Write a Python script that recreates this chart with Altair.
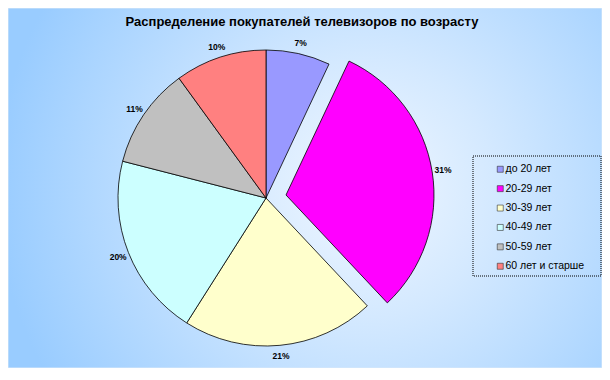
import altair as alt
import pandas as pd

# ---- data ----
categories = ["до 20 лет", "20-29 лет", "30-39 лет", "40-49 лет", "50-59 лет", "60 лет и старше"]
shares = [7, 31, 21, 20, 11, 10]
colors = ["#9999FF", "#FF00FF", "#FFFFCC", "#CCFFFF", "#C0C0C0", "#FF8080"]
exploded = "20-29 лет"
title_text = "Распределение покупателей телевизоров по возрасту"

df = pd.DataFrame({"cat": categories, "v": shares, "idx": list(range(len(categories)))})

# ---- layout ----
W, H, PAD_TOP = 594, 330, 30
CX, CY = 258, 160
R, R_LBL = 148, 159
EXP_DX, EXP_DY = 20, -3
FONT = "Liberation Sans"

test = f"datum.cat === '{exploded}'"

base = alt.Chart(df).transform_calculate(lbl="datum.v + '%'").encode(
    theta=alt.Theta("v:Q", stack=True),
    order=alt.Order("idx:Q"),
)

color_enc = alt.Color(
    "cat:N",
    scale=alt.Scale(domain=categories, range=colors),
    legend=alt.Legend(
        title=None, orient="none", legendX=487, legendY=126,
        symbolType="square", symbolSize=36, symbolStrokeColor="#333333",
        symbolStrokeWidth=0.6, labelFont=FONT, labelFontSize=10.5,
        labelColor="black", rowPadding=8.4, labelOffset=0, padding=0,
    ),
)

arc_props = dict(x=CX, y=CY, outerRadius=R, stroke="black", strokeWidth=0.8)

pie_rest = base.mark_arc(**arc_props).encode(
    color=color_enc,
    opacity=alt.condition(test, alt.value(0), alt.value(1)),
)
pie_exp = base.mark_arc(xOffset=EXP_DX, yOffset=EXP_DY, **arc_props).encode(
    color=color_enc,
    opacity=alt.condition(test, alt.value(1), alt.value(0)),
)

txt_props = dict(x=CX, y=CY, radius=R_LBL, font=FONT, fontSize=8.5, fontWeight="bold",
                 align="center", baseline="middle", color="black")
lbl_rest = base.mark_text(**txt_props).encode(
    text="lbl:N", opacity=alt.condition(test, alt.value(0), alt.value(1)))
lbl_exp = base.mark_text(xOffset=EXP_DX, yOffset=EXP_DY, **txt_props).encode(
    text="lbl:N", opacity=alt.condition(test, alt.value(1), alt.value(0)))

one = alt.Data(values=[{}])
bg = alt.Chart(one).mark_rect(
    color=alt.RadialGradient(
        gradient="radial", x1=0.6, y1=0.5, r1=0, x2=0.6, y2=0.5, r2=0.62,
        stops=[alt.GradientStop(offset=0, color="#F0F7FF"),
               alt.GradientStop(offset=0.35, color="#D4E9FF"),
               alt.GradientStop(offset=1, color="#99CCFF")]),
    stroke="#D8E8F8", strokeWidth=1,
).encode(x=alt.value(0), x2=alt.value(W), y=alt.value(-PAD_TOP), y2=alt.value(H))

title = alt.Chart(one).mark_text(
    text=title_text, font=FONT, fontSize=13, fontWeight="bold", color="black",
    align="center", baseline="middle",
).encode(x=alt.value(W / 2 - 3), y=alt.value(-16))

legend_box = alt.Chart(one).mark_rect(
    fill=None, stroke="black", strokeWidth=1, strokeDash=[1, 1]
).encode(x=alt.value(465), x2=alt.value(593), y=alt.value(118), y2=alt.value(238))

chart = alt.layer(bg, title, pie_rest, pie_exp, lbl_rest, lbl_exp, legend_box).properties(
    width=W, height=H,
    autosize=alt.AutoSizeParams(type="none"),
    padding={"left": 0, "top": PAD_TOP, "right": 0, "bottom": 0},
).configure_view(stroke=None).configure(background="white")

chart.save("out.html", embed_options={"renderer": "svg", "actions": False})
